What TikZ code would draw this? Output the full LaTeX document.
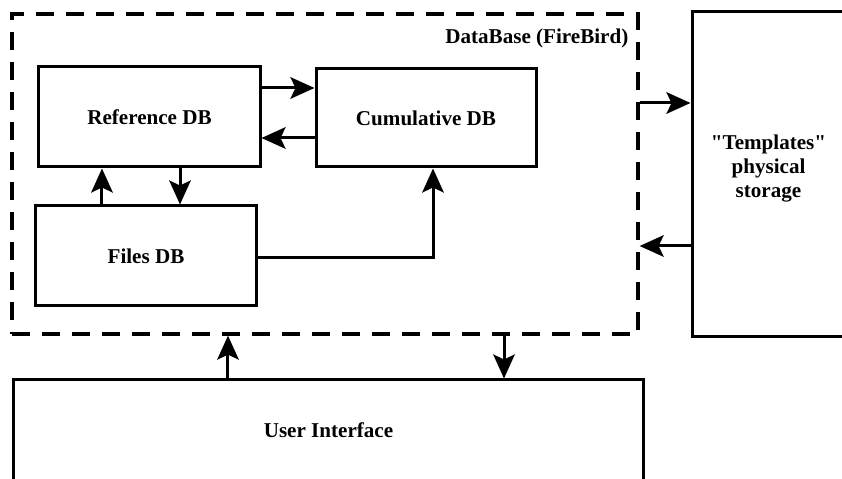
\documentclass[tikz,border=0pt]{standalone}
\usepackage{fontspec}
\setmainfont{Liberation Serif}
\newfontfamily\straightfont{Liberation Serif}
\usepackage{tikz}
\usetikzlibrary{arrows.meta, positioning, calc}
\tikzset{%
	block/.style={draw, rectangle, line width=0.6mm, inner sep=0mm, align=center,%
		font=\fontsize{12}{13.7}\selectfont\bfseries},
	dbframe/.style={draw, rectangle, line width=0.65mm, dash pattern=on 3.6mm off 2.4mm},
	sel/.style={-{Stealth[length=4.8mm, width=4.3mm, inset=1mm]}, line width=0.6mm},
	conn/.style={line width=0.6mm},
	textnode/.style={inner sep=0mm, font=\fontsize{12}{13.7}\selectfont\bfseries}
}

\begin{document}
\begin{tikzpicture}[x=0.2mm, y=-0.2mm]
	\useasboundingbox (0,0) rectangle (842,479);

	% database frame
	\node[dbframe, minimum width=125.2mm, minimum height=64mm] (db) at (325,174) {};
	\node[textnode, anchor=north east] (dbname) at ([xshift=-2.2mm, yshift=-3.2mm]db.north east) {DataBase (FireBird)};

	\node[block, minimum width=44.2mm, minimum height=20mm] (refdb) at (149.5,117) {Reference DB};
	\node[block, minimum width=44mm, minimum height=19.6mm] (cumdb) at (426,118) {Cumulative DB};
	\node[block, minimum width=44mm, minimum height=20mm] (filesdb) at (146,256) {Files DB};

	\node[block, minimum width=30.6mm, minimum height=65mm] (tpl) at (768.5,174.5) {{\straightfont"}Templates{\straightfont"}\\physical\\storage\\[-1.6mm]};
	\node[block, minimum width=125.8mm, minimum height=20.2mm] (ui) at (328.5,430.5) {User Interface};

	% links inside the database
	\draw[sel] ([yshift=5.8mm]refdb.east) -- ([yshift=5.8mm]refdb.east -| cumdb.west);
	\draw[sel] ([yshift=-4.2mm]refdb.east -| cumdb.west) -- ([yshift=-4.2mm]refdb.east);
	\draw[sel] ([xshift=-8.8mm]filesdb.north) -- ([xshift=-8.8mm]filesdb.north |- refdb.south);
	\draw[sel] ([xshift=6.1mm]refdb.south) -- ([xshift=6.1mm]refdb.south |- filesdb.north);
	\draw[sel] ([yshift=-0.4mm]filesdb.east) -| ([xshift=1.4mm]cumdb.south);

	% links outside
	\draw[sel] ([yshift=14.2mm]db.east) -- ([yshift=14.2mm]db.east -| tpl.west);
	\draw[sel] ([yshift=-14.4mm]db.east -| tpl.west) -- ([yshift=-14.4mm]db.east);
	\draw[sel] ([xshift=-20.1mm]ui.north) -- ([xshift=-20.1mm]ui.north |- db.south);
	\draw[sel] ([xshift=35.1mm]ui.north |- db.south) -- ([xshift=35.1mm]ui.north);
\end{tikzpicture}
\end{document}
